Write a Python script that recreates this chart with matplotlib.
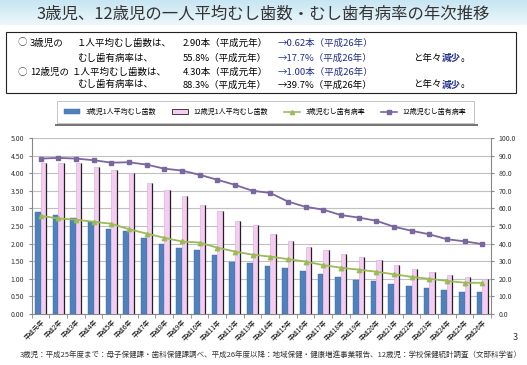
import numpy as np
import matplotlib
matplotlib.use("Agg")
import matplotlib.pyplot as plt
from matplotlib.patches import Rectangle, Patch
from matplotlib.lines import Line2D

plt.rcParams['font.family'] = ['Noto Sans CJK JP', 'DejaVu Sans']

# ---- data ----
years = ["平成元年"] + [f"平成{i}年" for i in range(2, 27)]
dmf_3yr = [2.90, 2.82, 2.73, 2.60, 2.41, 2.35, 2.15, 1.99, 1.87, 1.81, 1.67, 1.49, 1.45,
           1.37, 1.30, 1.22, 1.13, 1.04, 0.98, 0.94, 0.85, 0.80, 0.74, 0.68, 0.63, 0.62]
dmf_12yr = [4.30, 4.30, 4.29, 4.18, 4.09, 4.00, 3.72, 3.51, 3.35, 3.10, 2.93, 2.64, 2.52,
            2.28, 2.08, 1.90, 1.82, 1.71, 1.63, 1.54, 1.40, 1.29, 1.20, 1.10, 1.05, 1.00]
rate_3yr = [55.8, 54.3, 53.6, 52.4, 51.3, 48.2, 45.7, 43.3, 41.2, 40.6, 37.7, 35.5, 33.7,
            32.6, 31.2, 29.8, 27.8, 26.3, 25.2, 24.0, 22.6, 21.1, 20.0, 18.8, 17.8, 17.7]
rate_12yr = [88.3, 88.7, 88.3, 87.4, 86.0, 86.2, 84.9, 82.6, 81.5, 79.1, 76.3, 73.4, 70.0,
             68.8, 63.9, 60.9, 59.3, 56.2, 54.8, 53.0, 49.6, 47.3, 45.3, 42.5, 41.3, 39.7]
series_names = ["3歳児1人平均むし歯数", "12歳児1人平均むし歯数", "3歳児むし歯有病率", "12歳児むし歯有病率"]

BLUE = "#4F81BD"
PINK = "#F6CDF2"
GREEN = "#9BBB59"
PURPLE = "#7A67A0"
NAVY = "#1F2F8F"

W, H = 527, 365
fig = plt.figure(figsize=(W / 100, H / 100), dpi=100)


def fx(px):
    return px / W


def fy(py):
    return 1 - py / H


# title band with a soft gradient
band = fig.add_axes([0, fy(25), 1, 25 / H])
grad = np.linspace(0, 1, 50).reshape(-1, 1)
top_c = np.array([0.78, 0.90, 0.95])
bot_c = np.array([0.93, 0.97, 0.985])
img = top_c + (bot_c - top_c) * grad[:, :, None]
band.imshow(img, aspect="auto", extent=[0, 1, 0, 1])
band.axis("off")
fig.text(0.5, fy(14), "3歳児、12歳児の一人平均むし歯数・むし歯有病率の年次推移",
         ha="center", va="center", fontsize=11.8, color="#333333")

# summary box
fig.patches.append(Rectangle((fx(6), fy(93)), fx(510), 61 / H, transform=fig.transFigure,
                             facecolor="white", edgecolor="#222222", lw=0.8))
fs = 6.8
rows = [
    (43, [(17, "○", "#555555"), (30, "3歳児の", "black"), (77, "１人平均むし歯数は、", "black"),
          (183, "2.90本（平成元年）", "black"), (278, "→0.62本（平成26年）", NAVY)]),
    (58, [(77, "むし歯有病率は、", "black"), (183, "55.8%（平成元年）", "black"),
          (278, "→17.7%（平成26年）", NAVY)]),
    (72, [(17, "○", "#555555"), (30, "12歳児の", "black"), (72, "１人平均むし歯数は、", "black"),
          (183, "4.30本（平成元年）", "black"), (278, "→1.00本（平成26年）", NAVY)]),
    (85, [(77, "むし歯有病率は、", "black"), (183, "88.3%（平成元年）", "black"),
          (278, "→39.7%（平成26年）", "black")]),
]
for yy, segs in rows:
    for xx, s, c in segs:
        fig.text(fx(xx), fy(yy), s, ha="left", va="center", fontsize=fs, color=c)
for yy in (58, 85):
    em = fs * 100 / 72
    fig.text(fx(413), fy(yy), "と年々", ha="left", va="center", fontsize=fs)
    fig.text(fx(413 + 3 * em), fy(yy), "減少", ha="left", va="center", fontsize=fs,
             color=NAVY, fontweight="bold")
    fig.text(fx(413 + 5 * em), fy(yy), "。", ha="left", va="center", fontsize=fs)

# main chart
ax = fig.add_axes([fx(31.7), fy(314), fx(491 - 31.7), (314 - 138) / H])
x = np.arange(len(years))
bw = 0.31
ax.bar(x - bw / 2, dmf_3yr, bw, color=BLUE, edgecolor="#3E6AA0", lw=0.3, zorder=3)
ax.bar(x + bw / 2, dmf_12yr, bw, color=PINK, edgecolor="#D8A8D4", lw=0.4, zorder=3)
ax.vlines(x + bw, 0, dmf_12yr, color="#222222", lw=0.9, zorder=3)

ax.set_xlim(-0.5, len(years) - 0.5)
ax.set_ylim(0, 5)
ax.set_yticks(np.arange(0, 5.01, 0.5))
ax.set_yticklabels([f"{v:.2f}" for v in np.arange(0, 5.01, 0.5)])
ax.yaxis.grid(True, color="#C0C0C0", lw=0.8, zorder=0)
ax.set_axisbelow(True)
ax.set_xticks(x)
ax.set_xticklabels(years, rotation=45, ha="right", rotation_mode="anchor", fontsize=4.6)
ax.set_xticks(np.arange(len(years) + 1) - 0.5, minor=True)
ax.tick_params(axis="x", which="major", length=0, pad=3)
ax.tick_params(axis="x", which="minor", length=3, color="#888888")
ax.tick_params(axis="y", labelsize=5, length=2, color="#888888", colors="#333333")
for side in ("top", "right"):
    ax.spines[side].set_visible(False)
for side in ("left", "bottom"):
    ax.spines[side].set_color("#888888")

ax2 = ax.twinx()
ax2.plot(x, rate_3yr, color=GREEN, lw=1.3, marker="^", ms=3.2, zorder=4)
ax2.plot(x, rate_12yr, color=PURPLE, lw=1.3, marker="s", ms=3.2, zorder=4)
ax2.set_ylim(0, 100)
ax2.set_yticks(np.arange(0, 101, 10))
ax2.set_yticklabels([f"{v:.1f}" for v in np.arange(0, 101, 10)])
ax2.tick_params(axis="y", labelsize=5, length=2, color="#888888", colors="#333333")
for side in ("top", "left", "bottom"):
    ax2.spines[side].set_visible(False)
ax2.spines["right"].set_color("#888888")

# legend
handles = [
    Patch(facecolor=BLUE, edgecolor="#3E6AA0", lw=0.3),
    Patch(facecolor=PINK, edgecolor="#222222", lw=0.6),
    Line2D([], [], color=GREEN, lw=1.2, marker="^", ms=3),
    Line2D([], [], color=PURPLE, lw=1.2, marker="s", ms=3),
]
leg = fig.legend(handles, series_names, loc="center", ncol=4, mode="expand",
                 bbox_to_anchor=(fx(54), fy(124), fx(423), 24 / H), fontsize=5,
                 frameon=True, fancybox=False, shadow=False, handlelength=2.3,
                 handleheight=0.6, borderpad=1.0, columnspacing=1.0)
leg.get_frame().set_edgecolor("#AAAAAA")
leg.get_frame().set_linewidth(0.6)
fig.patches.append(Rectangle((fx(55), fy(126)), fx(423), 1.5 / H, transform=fig.transFigure,
                             facecolor="#777777", edgecolor="none"))

fig.text(fx(515), fy(337), "3", ha="center", va="center", fontsize=6.5, color="#333333")
fig.text(fx(271), fy(355),
         "3歳児：平成25年度まで：母子保健課・歯科保健課調べ、平成26年度以降：地域保健・健康増進事業報告、12歳児：学校保健統計調査（文部科学省）",
         ha="center", va="center", fontsize=5.4, color="#333333")

fig.savefig("out.png", dpi=100)
